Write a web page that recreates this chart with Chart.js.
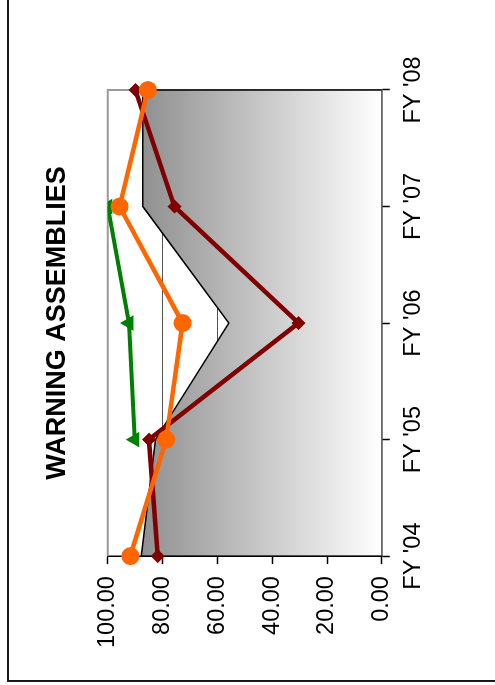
<!DOCTYPE html>
<html>
<head>
<meta charset="utf-8">
<script src="https://cdn.jsdelivr.net/npm/chart.js@4/dist/chart.umd.min.js"></script>
<style>
  html, body { margin: 0; padding: 0; background: #fff; overflow: hidden; width: 495px; height: 685px; }
  #frame { position: absolute; left: 7px; top: -5px; width: 600px; height: 687px; box-sizing: border-box; border: 2px solid #1a1a1a; }
  #wrap { position: absolute; left: 0; top: 0; width: 685px; height: 495px; transform-origin: 0 0; transform: translate(0, 685px) rotate(-90deg); }
</style>
</head>
<body>
<div id="frame"></div>
<div id="wrap"><canvas id="c"></canvas></div>
<script>
const categories = ["FY '04", "FY '05", "FY '06", "FY '07", "FY '08"];
const areaValues = [87.8, 82.6, 55.8, 87.2, 87.2];
const orangeValues = [91.8, 78.7, 72.7, 95.7, 85.4];
const darkRedValues = [81.8, 85.0, 30.4, 75.7, 89.9];
const greenValues = [null, 90.2, 92.3, 100.0, null];
const valueTicks = [0, 20, 40, 60, 80, 100];
const titleText = "WARNING ASSEMBLIES";

const FONT = "'Liberation Sans', Arial, sans-serif";

const framePlugin = {
  id: 'frameLines',
  beforeDatasetsDraw(chart) {
    const {ctx, chartArea: a} = chart;
    ctx.save();
    ctx.strokeStyle = '#9a9a9a';
    ctx.lineWidth = 2;
    ctx.beginPath();
    ctx.moveTo(a.left, a.top);
    ctx.lineTo(a.right, a.top);
    ctx.lineTo(a.right, a.bottom);
    ctx.stroke();
    ctx.restore();
  },
  afterDatasetDraw(chart, args) {
    if (args.meta.index !== 3) return;
    const pts = args.meta.data;
    const base = chart.scales.y.getPixelForValue(0);
    const {ctx} = chart;
    ctx.save();
    ctx.strokeStyle = '#000';
    ctx.lineWidth = 1.5;
    [pts[0], pts[pts.length - 1]].forEach(p => {
      ctx.beginPath();
      ctx.moveTo(p.x, p.y);
      ctx.lineTo(p.x, base);
      ctx.stroke();
    });
    ctx.restore();
  }
};

new Chart(document.getElementById('c'), {
  type: 'line',
  data: {
    labels: categories,
    datasets: [
      { label: 'Orange', data: orangeValues, borderColor: '#ff6600', backgroundColor: '#ff6600',
        borderWidth: 4.5, pointStyle: 'circle', pointRadius: 9, pointBorderWidth: 0, tension: 0, fill: false },
      { label: 'Dark red', data: darkRedValues, borderColor: '#800000', backgroundColor: '#800000',
        borderWidth: 4.5, pointStyle: 'rectRot', pointRadius: 7, pointBorderWidth: 0, tension: 0, fill: false },
      { label: 'Green', data: greenValues, borderColor: '#008000', backgroundColor: '#008000',
        borderWidth: 4, pointStyle: 'triangle', pointRadius: 9, pointBorderWidth: 0, tension: 0, fill: false, spanGaps: false },
      { label: 'Area', data: areaValues, borderColor: '#000', borderWidth: 1.5, pointRadius: 0, tension: 0,
        fill: 'origin',
        backgroundColor: (ctx) => {
          const chart = ctx.chart;
          const a = chart.chartArea;
          if (!a) return '#aaa';
          const g = chart.ctx.createLinearGradient(0, a.top, 0, a.bottom);
          g.addColorStop(0, '#808080');
          g.addColorStop(1, '#ffffff');
          return g;
        } }
    ]
  },
  options: {
    responsive: true,
    maintainAspectRatio: false,
    animation: false,
    devicePixelRatio: 1,
    layout: { padding: { left: 25, right: 90, top: 10, bottom: 57 } },
    plugins: {
      legend: { display: false },
      tooltip: { enabled: false },
      title: {
        display: true, text: titleText, fullSize: false, color: '#000',
        font: { family: FONT, size: 27, weight: 'bold' },
        padding: { top: 31.4, bottom: 34.0 }
      }
    },
    scales: {
      x: {
        type: 'category',
        offset: false,
        grid: { drawOnChartArea: false, drawTicks: true, tickLength: 8, tickColor: '#000', tickWidth: 1.5 },
        border: { color: '#000', width: 1.5 },
        ticks: { color: '#000', font: { family: FONT, size: 23.5 }, padding: 10, maxRotation: 0, autoSkip: false }
      },
      y: {
        min: 0, max: 100,
        afterBuildTicks: (scale) => { scale.ticks = valueTicks.map(v => ({ value: v })); },
        grid: { color: '#555', lineWidth: 1, drawTicks: true, tickLength: 8, tickColor: '#000', tickWidth: 1.5 },
        border: { color: '#000', width: 1.5 },
        ticks: { color: '#000', font: { family: FONT, size: 23.5 }, padding: 12,
          callback: (v) => Number(v).toFixed(2) }
      }
    }
  },
  plugins: [framePlugin]
});
</script>
</body>
</html>
